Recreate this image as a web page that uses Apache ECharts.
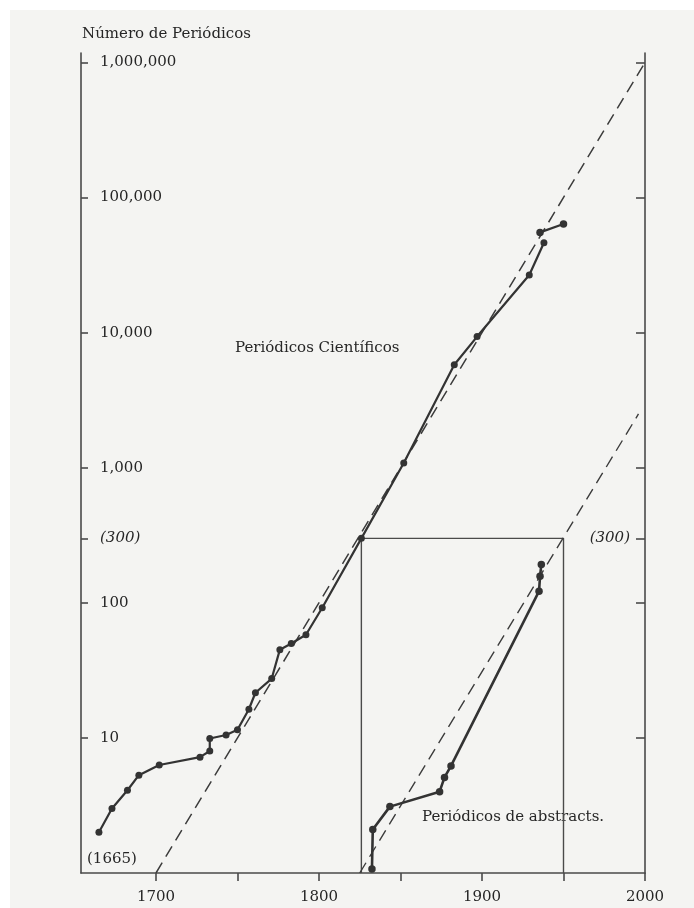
<!DOCTYPE html>
<html>
<head>
<meta charset="utf-8">
<script src="https://cdn.jsdelivr.net/npm/echarts@6/dist/echarts.min.js"></script>
<style>
  html, body { margin: 0; padding: 0; background: #ffffff; overflow: hidden; }
  #chart { position: absolute; left: 10px; top: 10px; width: 684px; height: 898px; background: #f4f4f2; }
</style>
</head>
<body>
<div id="chart"></div>
<script>
// Scientific journals founded over time (year, cumulative count)
const journalYears  = [1665, 1673, 1682.5, 1689.5, 1702, 1727, 1733, 1733, 1743, 1750, 1757, 1761, 1771, 1776, 1783, 1792, 1802, 1826, 1852, 1883, 1897, 1929, 1938];
const journalCounts = [2, 3, 4.1, 5.3, 6.3, 7.2, 8, 9.9, 10.5, 11.5, 16.3, 21.6, 27.5, 45, 50, 58, 92, 300, 1085, 5780, 9350, 26700, 46300];
// Last, separately drawn segment of the journals curve
const journalTailYears  = [1935.6, 1950];
const journalTailCounts = [55200, 63700];

// Abstract journals
const abstractYears  = [1832.5, 1833, 1843.5, 1874, 1877, 1881, 1935, 1935.6, 1936.4];
const abstractCounts = [1.07, 2.1, 3.1, 4, 5.1, 6.2, 122, 157, 192];

// Exponential trend lines (dashed)
const journalTrendYears  = [1700, 2000];
const journalTrendCounts = [1, 1000000];
const abstractTrendYears  = [1825, 1996];
const abstractTrendCounts = [1, 2500];

// Inset frame for the abstracts panel
const frameYears  = [1826, 1826, 1950, 1950];
const frameCounts = [1, 300, 300, 1];

// Axis ticks and labels
const yLeftTicks   = [10, 100, 300, 1000, 10000, 100000, 1000000];
const yRightTicks  = [10, 100, 300, 1000, 10000, 100000, 1000000];
const yRightLabels = [300];
const xTicks  = [1700, 1750, 1800, 1850, 1900, 1950, 2000];
const xLabels = [1700, 1800, 1900, 2000];

const FONT = 'DejaVu Serif';
const INK = '#262626';
const LINE = '#333333';
const AXIS = '#4a4a4a';

const lg = v => Math.log10(v);
const pairs = (xs, ys) => xs.map((x, i) => [x, lg(ys[i])]);

function countLabel(v) {
  const n = Math.round(Math.pow(10, v));
  if (n === 300) return '{i|(300)}';
  return n.toLocaleString('en-US');
}

const richItalic = { i: { fontFamily: FONT, fontStyle: 'italic', fontSize: 15, color: INK } };

const chart = echarts.init(document.getElementById('chart'), null, { renderer: 'canvas' });

const lineStyleSolid = { color: LINE, width: 2.2 };
const dotStyle = { color: LINE };
const textFont = '15px "DejaVu Serif"';

chart.setOption({
  animation: false,
  backgroundColor: '#f4f4f2',
  grid: { left: 71, right: 49, top: 43, bottom: 35, containLabel: false, outerBoundsMode: 'none' },
  xAxis: {
    type: 'value',
    min: 1654,
    max: 2000,
    splitLine: { show: false },
    axisLine: { show: true, lineStyle: { color: AXIS, width: 1.6 } },
    axisTick: { show: true, inside: false, length: 8, customValues: xTicks, lineStyle: { color: AXIS, width: 1.6 } },
    axisLabel: {
      show: true, customValues: xLabels, margin: 17,
      fontFamily: FONT, fontSize: 15, color: INK,
      formatter: v => String(Math.round(v))
    }
  },
  yAxis: [
    {
      type: 'value',
      position: 'left',
      min: 0,
      max: 6.07,
      splitLine: { show: false },
      axisLine: { show: true, onZero: false, lineStyle: { color: AXIS, width: 1.6 } },
      axisTick: { show: true, inside: true, length: 7, customValues: yLeftTicks.map(lg), lineStyle: { color: AXIS, width: 1.6 } },
      axisLabel: {
        show: true, inside: true, margin: 19, customValues: yLeftTicks.map(lg),
        fontFamily: FONT, fontSize: 15, color: INK,
        formatter: countLabel, rich: richItalic
      }
    },
    {
      type: 'value',
      position: 'right',
      min: 0,
      max: 6.07,
      splitLine: { show: false },
      axisLine: { show: true, onZero: false, lineStyle: { color: AXIS, width: 1.6 } },
      axisTick: { show: true, inside: true, length: 9, customValues: yRightTicks.map(lg), lineStyle: { color: AXIS, width: 1.6 } },
      axisLabel: {
        show: true, inside: true, margin: 15, customValues: yRightLabels.map(lg),
        fontFamily: FONT, fontSize: 15, color: INK,
        formatter: countLabel, rich: richItalic
      }
    }
  ],
  series: [
    {
      name: 'frame', type: 'line', data: pairs(frameYears, frameCounts),
      showSymbol: false, symbol: 'none', silent: true,
      lineStyle: { color: AXIS, width: 1.4 }, z: 1
    },
    {
      name: 'journalTrend', type: 'line', data: pairs(journalTrendYears, journalTrendCounts),
      symbol: 'none', silent: true,
      lineStyle: { color: '#3c3c3c', width: 1.5, type: [12, 7] }, z: 2
    },
    {
      name: 'abstractTrend', type: 'line', data: pairs(abstractTrendYears, abstractTrendCounts),
      symbol: 'none', silent: true,
      lineStyle: { color: '#3c3c3c', width: 1.4, type: [12, 7] }, z: 2
    },
    {
      name: 'Periódicos Científicos', type: 'line', data: pairs(journalYears, journalCounts),
      symbol: 'circle', symbolSize: 7, showAllSymbol: true,
      itemStyle: dotStyle, lineStyle: lineStyleSolid, z: 3
    },
    {
      name: 'Periódicos Científicos (cont.)', type: 'line', data: pairs(journalTailYears, journalTailCounts),
      symbol: 'circle', symbolSize: 7.5, showAllSymbol: true,
      itemStyle: dotStyle, lineStyle: lineStyleSolid, z: 3
    },
    {
      name: 'Periódicos de abstracts', type: 'line', data: pairs(abstractYears, abstractCounts),
      symbol: 'circle', symbolSize: 7.5, showAllSymbol: true,
      itemStyle: dotStyle, lineStyle: { color: LINE, width: 2.6 }, z: 3
    }
  ],
  graphic: [
    { type: 'text', x: 72, y: 24, style: { text: 'Número de Periódicos', font: textFont, fill: INK, verticalAlign: 'middle' } },
    { type: 'text', x: 225, y: 338, style: { text: 'Periódicos Científicos', font: textFont, fill: INK, verticalAlign: 'middle' } },
    { type: 'text', x: 412, y: 807, style: { text: 'Periódicos de abstracts.', font: textFont, fill: INK, verticalAlign: 'middle' } },
    { type: 'text', x: 77, y: 849, style: { text: '(1665)', font: textFont, fill: INK, verticalAlign: 'middle' } }
  ]
});
</script>
</body>
</html>
